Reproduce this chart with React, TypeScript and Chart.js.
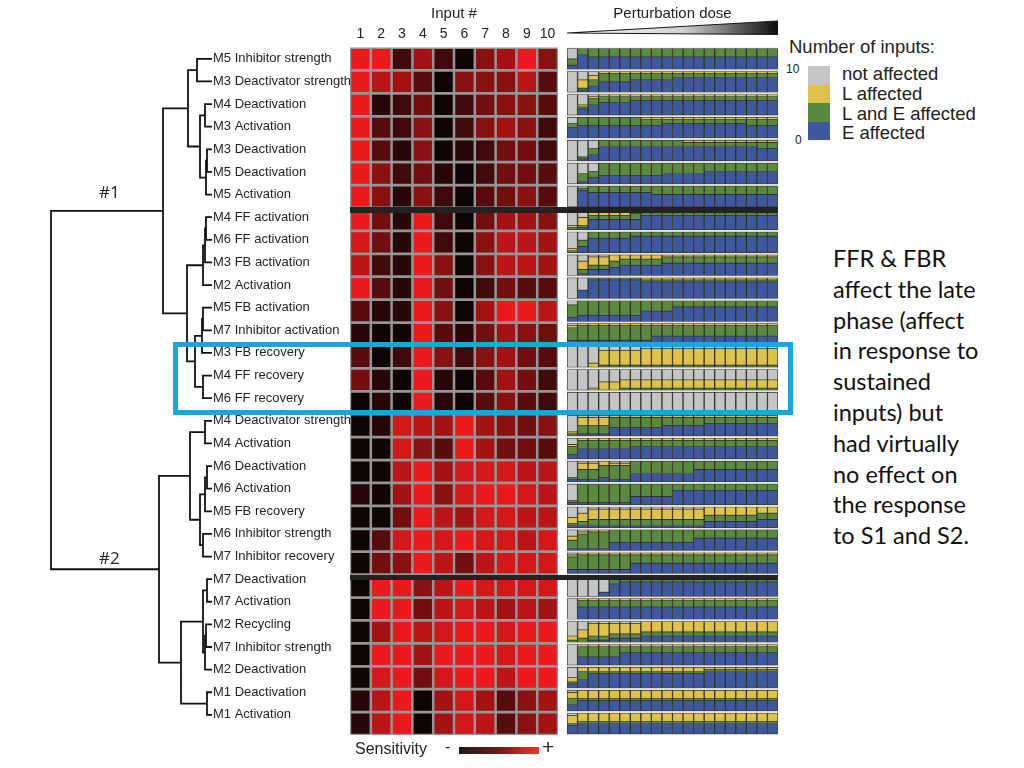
import React, { useEffect, useRef } from 'react';
import { Chart, registerables } from 'chart.js';

Chart.register(...registerables);

// ---------------- DATA ----------------
const rowLabels = [
  'M5 Inhibitor strength', 'M3 Deactivator strength', 'M4 Deactivation', 'M3 Activation',
  'M3 Deactivation', 'M5 Deactivation', 'M5 Activation', 'M4 FF activation', 'M6 FF activation',
  'M3 FB activation', 'M2 Activation', 'M5 FB activation', 'M7 Inhibitor activation',
  'M3 FB recovery', 'M4 FF recovery', 'M6 FF recovery', 'M4 Deactivator strength',
  'M4 Activation', 'M6 Deactivation', 'M6 Activation', 'M5 FB recovery', 'M6 Inhibitor strength',
  'M7 Inhibitor recovery', 'M7 Deactivation', 'M7 Activation', 'M2 Recycling',
  'M7 Inhibitor strength', 'M2 Deactivation', 'M1 Deactivation', 'M1 Activation',
];

const inputLabels = ['1', '2', '3', '4', '5', '6', '7', '8', '9', '10'];

// sensitivity per input, 0 (black, low) .. 9 (bright red, high); one string per row
const sensitivityRows = [
  '9926205695', '9763055573', '9124024553', '9325025652', '9315012442', '9524102443',
  '9515203453', '9419204665', '8419205776', '7219505776', '9319402433', '3119506997',
  '1009314654', '3029525643', '4109103642', '0109103532', '0187696545', '0085396443',
  '0079688877', '1069589987', '0049768877', '0389898878', '0459747888', '0995798888',
  '0994787676', '0697899899', '0996999899', '0894899799', '1790686356', '1790687356',
];

const doseLabels = ['1', '2', '3', '4', '5', '6', '7', '8', '9', '10', '11', '12', '13', '14', '15', '16', '17', '18', '19', '20'];

const categoryNames = ['not affected', 'L affected', 'L and E affected', 'E affected'];

// per row: 20 doses, each token = counts (not affected, L, L&E, E), 'a' = 10
const doseRows = [
  '5032 0037 0046 0046 0046 0046 0046 0046 0046 0046 0046 0046 0046 0046 0046 0046 0046 0046 0046 0046',
  'a000 4411 2233 0145 0145 0145 0136 0136 0136 0136 0127 0127 0127 0127 0127 0127 0127 0127 0127 0127',
  'a000 5113 1135 0136 0136 0136 0127 0127 0127 0127 0127 0127 0127 0127 0127 0127 0127 0127 0127 0127',
  '3025 0046 0046 0046 0046 0046 0046 0136 0136 0127 0127 0127 0127 0127 0127 0127 0127 0136 0136 0136',
  'a000 8011 4033 0037 0037 0037 0037 0037 0037 0037 0037 0127 0127 0127 0127 0127 0127 0127 0136 0136',
  'a000 5041 4033 0064 0064 0064 0064 0064 0064 0055 0055 0055 0055 0046 0046 0046 0046 0046 0046 0046',
  'a000 1018 0037 0037 0037 0037 0037 0037 0046 0046 0046 0046 0046 0046 0046 0046 0046 0046 0046 0046',
  '8110 4411 0325 0325 0325 0325 0235 0037 0037 0037 0037 0037 0037 0037 0037 0037 0037 0037 0037 0037',
  '8110 4033 0037 0037 0037 0037 0028 0028 0028 0028 0028 0028 0028 0028 0028 0028 0028 0028 0028 0028',
  'a000 3421 1423 1423 0334 0235 0235 0235 0235 0136 0136 0136 0136 0136 0136 0136 0136 0136 0136 0136',
  'a000 6004 0019 0019 0019 0019 0019 0118 0118 0118 0118 0118 0118 0118 0118 0118 0118 0118 0118 0118',
  '2062 0073 0073 0073 0073 0073 0073 0055 0055 0055 0037 0037 0037 0037 0037 0037 0037 0037 0037 0037',
  '1162 0171 0171 0171 0171 0171 0171 0171 0154 0154 0154 0154 0154 0154 0154 0154 0154 0154 0154 0154',
  'a000 a000 8200 2710 2710 2710 2710 1810 1810 1810 1810 1810 1810 1810 1810 1810 1810 1810 1810 1810',
  'a000 a000 9100 6400 6400 5410 5410 5410 5410 5410 5410 5410 5410 5410 5410 5410 5410 5410 5410 5410',
  'a000 a000 a000 a000 a000 a000 9100 9100 9100 9100 9100 9100 a000 a000 a000 a000 a000 a000 a000 a000',
  '8110 1441 1441 1441 0154 0154 0154 0154 0154 0145 0145 0145 0145 0136 0136 0136 0136 0136 0136 0136',
  '3142 0145 0145 0145 0145 0145 0136 0136 0136 0136 0136 0136 0136 0136 0136 0136 0136 0136 0136 0136',
  '8011 1351 1351 0262 1171 1171 0064 0064 0064 0064 0064 0064 0046 0046 0046 0046 0046 0046 0046 0046',
  '8011 0091 0091 0091 0091 0091 0064 0064 0064 0064 0037 0037 0037 0037 0037 0037 0037 0037 0037 0037',
  '5311 3421 1531 1531 1531 1531 1531 1531 1531 1531 1531 1531 1531 0433 0433 0433 0433 0433 0334 0334',
  '3241 1171 0181 0181 0064 0064 0064 0064 0064 0064 0064 0064 0046 0046 0046 0046 0046 0046 0046 0046',
  '1162 0172 0172 0172 0172 0172 0145 0145 0145 0145 0145 0145 0145 0145 0145 0145 0145 0145 0145 0145',
  'a000 a000 a000 8002 1036 0037 0037 0037 0037 0037 0037 0037 0037 0037 0037 0037 0037 0037 0037 0037',
  'a000 0136 0136 0136 0136 0136 0136 0136 0136 0136 0136 0136 0136 0136 0136 0136 0136 0136 0136 0136',
  '7210 4420 1621 1621 1522 1522 1522 0523 0523 0523 0523 0523 0523 0523 0523 0523 0523 0523 0523 0523',
  'a000 0154 0154 0154 0154 0136 0136 0136 0136 0136 0136 0136 0136 0136 0136 0136 0136 0136 0136 0136',
  '5212 0244 0217 0217 0217 0217 0217 0217 0217 0217 0217 0217 0217 0118 0118 0118 0118 0118 0118 0118',
  '1333 0415 0415 0415 0415 0415 0415 0415 0415 0415 0415 0415 0415 0415 0415 0415 0415 0415 0415 0415',
  '1414 0415 0415 0415 0415 0415 0415 0415 0415 0415 0415 0415 0415 0415 0415 0415 0415 0415 0415 0415',
];

// dendrogram merges: [childA, childB, linkage distance]; L# = leaf row, N# = earlier merge
const dendroNodes: [string, string, number][] = [
  ['L0', 'L1', 15], ['L2', 'L3', 7], ['L4', 'L5', 5], ['N2', 'L6', 6], ['N1', 'N3', 12],
  ['N0', 'N4', 24], ['L7', 'L8', 6], ['N6', 'L9', 7], ['N7', 'L10', 9], ['L11', 'L12', 9],
  ['N9', 'L13', 10], ['L14', 'L15', 9], ['N10', 'N11', 17], ['N8', 'N12', 25], ['N5', 'N13', 49],
  ['L16', 'L17', 7], ['L18', 'L19', 5], ['N16', 'L20', 7], ['L21', 'L22', 9], ['N17', 'N18', 12],
  ['N15', 'N19', 22], ['L23', 'L24', 5], ['L25', 'L26', 6], ['N22', 'L27', 7], ['N21', 'N23', 9],
  ['L28', 'L29', 5], ['N24', 'N25', 31], ['N20', 'N26', 53], ['N14', 'N27', 161],
];

// ---------------- STYLE ----------------
const FONT = '"Liberation Sans", Arial, Helvetica, sans-serif';
const CAT_COLORS = ['#c4c5c7', '#dfc24c', '#5a8a3f', '#3e58a0'];
const GRID_TOP = 47.5;
const GRID_BOTTOM = 735;

Chart.defaults.font.family = FONT;

function sensColor(v: number) {
  const t = v / 9;
  const r = Math.round(16 + t * (236 - 16));
  const g = Math.round(5 + t * (26 - 5));
  const b = Math.round(5 + t * (28 - 5));
  return `rgb(${r},${g},${b})`;
}

const areaBg = (color: string) => ({
  id: 'areaBg',
  beforeDatasetsDraw(chart: any) {
    const { ctx, chartArea } = chart;
    ctx.save();
    ctx.fillStyle = color;
    ctx.fillRect(chartArea.left, chartArea.top, chartArea.width, chartArea.height);
    ctx.restore();
  },
});

function heatmapConfig(): any {
  const cells: any[] = [];
  sensitivityRows.forEach((row, r) => {
    inputLabels.forEach((lab, c) => {
      cells.push({ x: lab, y: [r + 0.06, r + 0.94], v: Number(row[c]) });
    });
  });
  return {
    type: 'bar',
    data: {
      labels: inputLabels,
      datasets: [{
        data: cells,
        grouped: false,
        barPercentage: 0.88,
        categoryPercentage: 1,
        borderWidth: 0,
        backgroundColor: (ctx: any) => sensColor(ctx.raw ? ctx.raw.v : 0),
      }],
    },
    options: {
      responsive: false,
      animation: false,
      layout: { padding: 0 },
      plugins: { legend: { display: false }, tooltip: { enabled: false } },
      scales: {
        x: {
          position: 'top',
          grid: { display: false, drawTicks: false },
          border: { display: false },
          ticks: { color: '#222', font: { size: 14 }, padding: 5, autoSkip: false, maxRotation: 0, minRotation: 0 },
          title: { display: true, text: 'Input #', color: '#222', font: { size: 15 }, padding: { top: 5, bottom: 0 } },
          afterFit: (s: any) => { s.height = GRID_TOP; s.paddingLeft = 0; s.paddingRight = 0; },
        },
        y: { display: false, min: 0, max: 30, reverse: true },
      },
    },
    plugins: [areaBg('#959595')],
  };
}

function doseConfig(): any {
  const unit = 0.09;
  const datasets = categoryNames.map((name, k) => ({
    label: name,
    data: [] as any[],
    grouped: false,
    barPercentage: 1,
    categoryPercentage: 1,
    backgroundColor: CAT_COLORS[k],
    borderColor: 'rgba(38,38,26,0.9)',
    borderWidth: { top: 0.7, bottom: 0.7, left: 1, right: 1 },
    borderSkipped: false,
  }));
  doseRows.forEach((row, r) => {
    const tokens = row.split(' ');
    let d = 0;
    tokens.forEach((tok) => {
      let cur = r + 0.05;
      for (let k = 0; k < 4; k++) {
        const n = tok[k] === 'a' ? 10 : Number(tok[k]);
        if (n > 0) {
          datasets[k].data.push({ x: doseLabels[d], y: [cur, cur + n * unit] });
          cur += n * unit;
        }
      }
      d++;
    });
  });
  return {
    type: 'bar',
    data: { labels: doseLabels, datasets },
    options: {
      responsive: false,
      animation: false,
      layout: { padding: 0 },
      plugins: { legend: { display: false }, tooltip: { enabled: false } },
      scales: {
        x: {
          position: 'top',
          grid: { display: false, drawTicks: false },
          border: { display: false },
          ticks: { display: false },
          title: { display: true, text: 'Perturbation dose', color: '#222', font: { size: 15 }, padding: { top: 5, bottom: 0 } },
          afterFit: (s: any) => { s.height = GRID_TOP; },
        },
        y: { display: false, min: 0, max: 30, reverse: true },
      },
    },
    plugins: [
      areaBg('#e2e2e2'),
      {
        id: 'wedge',
        afterDraw(chart: any) {
          const { ctx, chartArea } = chart;
          const l = chartArea.left;
          const r = chartArea.right;
          const g = ctx.createLinearGradient(l, 0, r, 0);
          g.addColorStop(0, '#ffffff');
          g.addColorStop(0.55, '#cfcfcf');
          g.addColorStop(1, '#0c0c0c');
          ctx.save();
          ctx.beginPath();
          ctx.moveTo(l, 33);
          ctx.lineTo(r, 21);
          ctx.lineTo(r, 34.5);
          ctx.closePath();
          ctx.fillStyle = g;
          ctx.fill();
          ctx.strokeStyle = '#151515';
          ctx.lineWidth = 1.2;
          ctx.stroke();
          ctx.restore();
        },
      },
    ],
  };
}

function dendroConfig(): any {
  const pos: Record<string, { d: number; y: number }> = {};
  rowLabels.forEach((_, i) => { pos['L' + i] = { d: 0, y: i }; });
  const pts: any[] = [];
  dendroNodes.forEach(([a, b, h], k) => {
    const A = pos[a];
    const B = pos[b];
    pts.push({ x: A.d, y: A.y }, { x: h, y: A.y }, { x: h, y: B.y }, { x: B.d, y: B.y }, { x: null, y: null });
    pos['N' + k] = { d: h, y: (A.y + B.y) / 2 };
  });
  return {
    type: 'scatter',
    data: {
      datasets: [{
        data: pts,
        showLine: true,
        spanGaps: false,
        borderColor: '#111',
        borderWidth: 1.8,
        pointRadius: 0,
        clip: 4,
      }],
    },
    options: {
      responsive: false,
      animation: false,
      layout: { padding: { top: GRID_TOP, bottom: 0, left: 0, right: 0 } },
      plugins: { legend: { display: false }, tooltip: { enabled: false } },
      scales: {
        x: { type: 'linear', display: false, min: 0, max: 162, reverse: true },
        y: {
          type: 'linear',
          position: 'right',
          min: -0.5,
          max: 29.5,
          reverse: true,
          grid: { display: false, drawTicks: false },
          border: { display: false },
          ticks: {
            autoSkip: false,
            padding: 1,
            color: '#1e1e1e',
            font: { size: 13 },
            callback: (_v: any, i: number) => rowLabels[i],
          },
          afterBuildTicks: (s: any) => { s.ticks = rowLabels.map((_, i) => ({ value: i })); },
          afterFit: (s: any) => { s.width = 140; },
        },
      },
    },
  };
}

function ChartBox({ left, top, width, height, build }: { left: number; top: number; width: number; height: number; build: () => any }) {
  const ref = useRef<HTMLCanvasElement>(null);
  useEffect(() => {
    const chart = new Chart(ref.current as HTMLCanvasElement, build());
    return () => chart.destroy();
  }, []);
  return (
    <canvas
      ref={ref}
      width={width}
      height={height}
      style={{ position: 'absolute', left, top, width, height }}
    />
  );
}

const abs = (s: React.CSSProperties): React.CSSProperties => ({ position: 'absolute', ...s });

export default function App() {
  const legendText: React.CSSProperties = { fontFamily: FONT, fontSize: 18.5, color: '#222', lineHeight: '20px', whiteSpace: 'nowrap' };
  return (
    <div style={abs({ left: 0, top: 0, width: 1024, height: 768, background: '#fff', overflow: 'hidden' })}>
      <ChartBox left={50} top={0} width={302} height={GRID_BOTTOM} build={dendroConfig} />
      <ChartBox left={350} top={0} width={208} height={GRID_BOTTOM} build={heatmapConfig} />
      <ChartBox left={567} top={0} width={211} height={GRID_BOTTOM} build={doseConfig} />

      {/* cluster separators */}
      <div style={abs({ left: 350, top: 207, width: 428, height: 6, background: '#222' })} />
      <div style={abs({ left: 350, top: 575, width: 428, height: 5, background: '#222' })} />

      {/* cluster labels */}
      <div style={abs({ left: 99, top: 180, fontFamily: '"Open Sans", sans-serif', fontSize: 17, color: '#222' })}>#1</div>
      <div style={abs({ left: 99, top: 546, fontFamily: '"Open Sans", sans-serif', fontSize: 17, color: '#222' })}>#2</div>

      {/* sensitivity colour key */}
      <div style={abs({ left: 355, top: 740, fontFamily: FONT, fontSize: 16, color: '#222' })}>Sensitivity</div>
      <div style={abs({ left: 445, top: 738, fontFamily: FONT, fontSize: 16, color: '#222' })}>-</div>
      <div style={abs({ left: 459, top: 747, width: 80, height: 7, background: 'linear-gradient(to right, #1b1b1b, #6e1a16, #ea3a2c)' })} />
      <div style={abs({ left: 542, top: 735, fontFamily: FONT, fontSize: 21, color: '#222' })}>+</div>

      {/* legend */}
      <div style={abs({ left: 789, top: 37, ...legendText })}>Number of inputs:</div>
      <div style={abs({ left: 786, top: 62, fontFamily: FONT, fontSize: 12, color: '#222' })}>10</div>
      <div style={abs({ left: 795, top: 133, fontFamily: FONT, fontSize: 12, color: '#222' })}>0</div>
      {CAT_COLORS.map((c, k) => (
        <div key={c} style={abs({ left: 808, top: 66 + k * 18.5, width: 22, height: 18.5, background: c })} />
      ))}
      {categoryNames.map((n, k) => (
        <div key={n} style={abs({ left: 842, top: 64 + k * 19.8, ...legendText })}>{n}</div>
      ))}

      {/* highlight box */}
      <div style={abs({ left: 173, top: 342, width: 620, height: 73, boxSizing: 'border-box', border: '5px solid #17a6df' })} />

      {/* annotation */}
      <div style={abs({ left: 833, top: 243, fontFamily: 'Lato, "Open Sans", sans-serif', fontSize: 23.5, lineHeight: '30.8px', color: '#111', whiteSpace: 'pre' })}>
        {'FFR & FBR\naffect the late\nphase (affect\nin response to\nsustained\ninputs) but\nhad virtually\nno effect on\nthe response\nto S1 and S2.'}
      </div>
    </div>
  );
}
